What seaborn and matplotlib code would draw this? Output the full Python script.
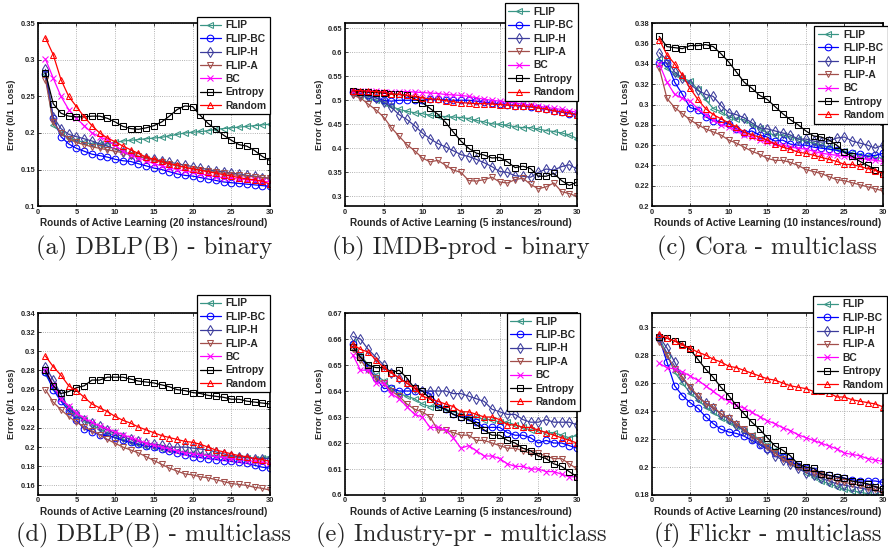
import numpy as np
import pandas as pd
import matplotlib
matplotlib.use("Agg")
import matplotlib.pyplot as plt
from matplotlib.ticker import FuncFormatter
import seaborn as sns

## data (error per round, rounds 1..30)
rounds = list(range(1, 31))
methods = ['FLIP', 'FLIP-BC', 'FLIP-H', 'FLIP-A', 'BC', 'Entropy', 'Random']

## (a) DBLP(B) - binary
dblp_bin_flip = [0.280, 0.211, 0.200, 0.193, 0.190, 0.187, 0.185, 0.185, 0.185, 0.187, 0.189, 0.190, 0.191, 0.192, 0.193,
                 0.194, 0.196, 0.198, 0.200, 0.201, 0.202, 0.203, 0.205, 0.206, 0.207, 0.208, 0.209, 0.210, 0.211, 0.212]
dblp_bin_flip_bc = [0.280, 0.220, 0.195, 0.185, 0.179, 0.175, 0.171, 0.169, 0.167, 0.164, 0.162, 0.161, 0.158, 0.155, 0.152,
                    0.150, 0.147, 0.144, 0.142, 0.141, 0.139, 0.137, 0.135, 0.133, 0.132, 0.131, 0.130, 0.129, 0.128, 0.127]
dblp_bin_flip_h = [0.287, 0.222, 0.206, 0.198, 0.195, 0.192, 0.189, 0.185, 0.182, 0.178, 0.174, 0.171, 0.168, 0.166, 0.164,
                   0.162, 0.160, 0.158, 0.156, 0.154, 0.152, 0.150, 0.148, 0.147, 0.145, 0.144, 0.142, 0.141, 0.139, 0.138]
dblp_bin_flip_a = [0.273, 0.215, 0.200, 0.192, 0.187, 0.184, 0.181, 0.179, 0.177, 0.175, 0.173, 0.170, 0.168, 0.165, 0.162,
                   0.160, 0.157, 0.155, 0.153, 0.151, 0.149, 0.148, 0.146, 0.145, 0.143, 0.142, 0.141, 0.140, 0.139, 0.138]
dblp_bin_bc = [0.301, 0.275, 0.250, 0.232, 0.220, 0.210, 0.200, 0.195, 0.190, 0.183, 0.175, 0.170, 0.166, 0.162, 0.158,
               0.155, 0.152, 0.150, 0.148, 0.146, 0.144, 0.142, 0.140, 0.139, 0.138, 0.137, 0.136, 0.135, 0.134, 0.133]
dblp_bin_entropy = [0.282, 0.240, 0.227, 0.223, 0.222, 0.222, 0.223, 0.223, 0.220, 0.215, 0.209, 0.206, 0.205, 0.207, 0.210,
                    0.215, 0.223, 0.232, 0.237, 0.236, 0.224, 0.213, 0.205, 0.197, 0.190, 0.184, 0.182, 0.176, 0.168, 0.162]
dblp_bin_random = [0.330, 0.307, 0.273, 0.250, 0.236, 0.222, 0.210, 0.200, 0.193, 0.188, 0.182, 0.177, 0.172, 0.167, 0.164,
                   0.161, 0.158, 0.156, 0.153, 0.151, 0.149, 0.147, 0.145, 0.143, 0.141, 0.139, 0.137, 0.136, 0.134, 0.130]

## (b) IMDB-prod - binary
imdb_bin_flip = [0.515, 0.510, 0.505, 0.500, 0.495, 0.487, 0.481, 0.477, 0.474, 0.472, 0.469, 0.467, 0.466, 0.465, 0.464,
                 0.462, 0.458, 0.455, 0.451, 0.450, 0.448, 0.445, 0.443, 0.443, 0.440, 0.437, 0.435, 0.432, 0.428, 0.420]
imdb_bin_flip_bc = [0.518, 0.513, 0.510, 0.505, 0.500, 0.498, 0.500, 0.500, 0.500, 0.500, 0.502, 0.502, 0.501, 0.500, 0.500,
                    0.500, 0.498, 0.496, 0.494, 0.492, 0.490, 0.489, 0.488, 0.486, 0.484, 0.481, 0.478, 0.475, 0.472, 0.470]
imdb_bin_flip_h = [0.515, 0.512, 0.508, 0.505, 0.497, 0.485, 0.470, 0.460, 0.447, 0.432, 0.420, 0.410, 0.403, 0.395, 0.387,
                   0.383, 0.377, 0.370, 0.362, 0.352, 0.350, 0.343, 0.342, 0.340, 0.350, 0.357, 0.355, 0.362, 0.366, 0.357]
imdb_bin_flip_a = [0.510, 0.505, 0.492, 0.480, 0.465, 0.443, 0.425, 0.408, 0.395, 0.380, 0.372, 0.375, 0.365, 0.355, 0.350,
                   0.333, 0.332, 0.335, 0.340, 0.330, 0.328, 0.335, 0.338, 0.325, 0.316, 0.320, 0.328, 0.310, 0.306, 0.300]
imdb_bin_bc = [0.520, 0.520, 0.520, 0.519, 0.518, 0.518, 0.518, 0.518, 0.517, 0.516, 0.515, 0.514, 0.512, 0.511, 0.510,
               0.508, 0.505, 0.502, 0.500, 0.498, 0.496, 0.494, 0.492, 0.490, 0.488, 0.485, 0.483, 0.481, 0.478, 0.475]
imdb_bin_entropy = [0.520, 0.518, 0.517, 0.516, 0.515, 0.513, 0.512, 0.510, 0.503, 0.495, 0.483, 0.471, 0.454, 0.434, 0.415,
                    0.400, 0.390, 0.386, 0.380, 0.381, 0.372, 0.360, 0.363, 0.358, 0.342, 0.342, 0.348, 0.333, 0.323, 0.330]
imdb_bin_random = [0.520, 0.520, 0.519, 0.518, 0.517, 0.513, 0.512, 0.510, 0.508, 0.505, 0.503, 0.502, 0.499, 0.497, 0.495,
                   0.494, 0.493, 0.493, 0.492, 0.491, 0.490, 0.489, 0.488, 0.487, 0.484, 0.482, 0.478, 0.476, 0.474, 0.470]

## (c) Cora - multiclass
cora_mc_flip = [0.345, 0.336, 0.330, 0.326, 0.323, 0.315, 0.305, 0.296, 0.293, 0.288, 0.286, 0.285, 0.280, 0.277, 0.272,
                0.270, 0.270, 0.268, 0.266, 0.264, 0.262, 0.260, 0.258, 0.256, 0.254, 0.252, 0.250, 0.249, 0.248, 0.247]
cora_mc_flip_bc = [0.341, 0.341, 0.322, 0.310, 0.297, 0.295, 0.288, 0.284, 0.283, 0.281, 0.276, 0.272, 0.274, 0.270, 0.268,
                   0.264, 0.265, 0.261, 0.260, 0.260, 0.258, 0.257, 0.256, 0.255, 0.253, 0.252, 0.251, 0.249, 0.250, 0.252]
cora_mc_flip_h = [0.351, 0.344, 0.332, 0.326, 0.320, 0.314, 0.310, 0.308, 0.299, 0.292, 0.290, 0.287, 0.282, 0.277, 0.276,
                  0.274, 0.272, 0.270, 0.266, 0.266, 0.264, 0.263, 0.264, 0.267, 0.268, 0.264, 0.262, 0.260, 0.257, 0.260]
cora_mc_flip_a = [0.336, 0.306, 0.297, 0.291, 0.285, 0.280, 0.276, 0.273, 0.270, 0.265, 0.262, 0.258, 0.254, 0.251, 0.247,
                  0.245, 0.245, 0.243, 0.240, 0.236, 0.234, 0.232, 0.229, 0.226, 0.225, 0.223, 0.221, 0.219, 0.217, 0.215]
cora_mc_bc = [0.340, 0.322, 0.310, 0.306, 0.303, 0.296, 0.290, 0.285, 0.280, 0.278, 0.275, 0.270, 0.268, 0.265, 0.263,
              0.261, 0.260, 0.258, 0.257, 0.256, 0.254, 0.252, 0.251, 0.250, 0.249, 0.248, 0.247, 0.246, 0.245, 0.244]
cora_mc_entropy = [0.367, 0.357, 0.356, 0.355, 0.358, 0.358, 0.359, 0.357, 0.350, 0.342, 0.332, 0.322, 0.316, 0.309, 0.305,
                   0.298, 0.291, 0.285, 0.280, 0.274, 0.269, 0.268, 0.265, 0.260, 0.253, 0.249, 0.244, 0.240, 0.236, 0.232]
cora_mc_random = [0.364, 0.349, 0.340, 0.329, 0.316, 0.305, 0.296, 0.290, 0.286, 0.282, 0.278, 0.273, 0.270, 0.268, 0.265,
                  0.261, 0.258, 0.256, 0.253, 0.252, 0.250, 0.248, 0.246, 0.244, 0.241, 0.241, 0.239, 0.237, 0.235, 0.232]

## (d) DBLP(B) - multiclass
dblp_mc_flip = [0.276, 0.262, 0.250, 0.240, 0.233, 0.228, 0.223, 0.219, 0.215, 0.212, 0.208, 0.205, 0.203, 0.201, 0.200,
                0.198, 0.197, 0.196, 0.195, 0.194, 0.193, 0.192, 0.191, 0.190, 0.190, 0.189, 0.189, 0.188, 0.189, 0.190]
dblp_mc_flip_bc = [0.278, 0.260, 0.248, 0.238, 0.228, 0.219, 0.216, 0.213, 0.212, 0.210, 0.207, 0.205, 0.203, 0.201, 0.200,
                   0.198, 0.196, 0.194, 0.192, 0.190, 0.189, 0.188, 0.187, 0.186, 0.185, 0.184, 0.183, 0.181, 0.179, 0.178]
dblp_mc_flip_h = [0.284, 0.270, 0.255, 0.240, 0.235, 0.228, 0.225, 0.222, 0.218, 0.214, 0.211, 0.208, 0.206, 0.204, 0.203,
                  0.202, 0.200, 0.200, 0.200, 0.199, 0.198, 0.197, 0.195, 0.193, 0.191, 0.190, 0.189, 0.188, 0.188, 0.188]
dblp_mc_flip_a = [0.260, 0.247, 0.239, 0.232, 0.226, 0.221, 0.217, 0.213, 0.208, 0.204, 0.200, 0.197, 0.194, 0.190, 0.186,
                  0.182, 0.178, 0.175, 0.172, 0.171, 0.169, 0.168, 0.166, 0.164, 0.162, 0.161, 0.160, 0.158, 0.157, 0.155]
dblp_mc_bc = [0.280, 0.265, 0.250, 0.243, 0.236, 0.230, 0.226, 0.222, 0.219, 0.216, 0.213, 0.210, 0.207, 0.204, 0.202,
              0.200, 0.198, 0.196, 0.194, 0.193, 0.192, 0.191, 0.190, 0.189, 0.188, 0.187, 0.186, 0.185, 0.184, 0.183]
dblp_mc_entropy = [0.280, 0.264, 0.256, 0.258, 0.262, 0.264, 0.270, 0.270, 0.273, 0.273, 0.273, 0.271, 0.269, 0.268, 0.267,
                   0.265, 0.263, 0.260, 0.259, 0.257, 0.256, 0.254, 0.253, 0.252, 0.250, 0.250, 0.248, 0.247, 0.246, 0.245]
dblp_mc_random = [0.295, 0.284, 0.275, 0.264, 0.259, 0.252, 0.245, 0.241, 0.237, 0.232, 0.228, 0.225, 0.221, 0.218, 0.215,
                  0.212, 0.210, 0.208, 0.206, 0.205, 0.203, 0.200, 0.197, 0.195, 0.193, 0.191, 0.190, 0.188, 0.187, 0.185]

## (e) Industry-pr - multiclass
industry_mc_flip = [0.659, 0.654, 0.650, 0.646, 0.644, 0.641, 0.639, 0.638, 0.637, 0.635, 0.634, 0.634, 0.633, 0.632, 0.631,
                    0.630, 0.630, 0.629, 0.629, 0.628, 0.628, 0.627, 0.626, 0.625, 0.625, 0.624, 0.624, 0.623, 0.622, 0.623]
industry_mc_flip_bc = [0.658, 0.653, 0.649, 0.645, 0.641, 0.641, 0.640, 0.640, 0.640, 0.640, 0.639, 0.635, 0.633, 0.631, 0.630,
                       0.630, 0.628, 0.626, 0.626, 0.626, 0.624, 0.623, 0.623, 0.622, 0.620, 0.621, 0.620, 0.620, 0.619, 0.618]
industry_mc_flip_h = [0.661, 0.660, 0.656, 0.653, 0.650, 0.647, 0.645, 0.643, 0.641, 0.640, 0.640, 0.640, 0.640, 0.639, 0.639,
                      0.638, 0.637, 0.636, 0.633, 0.632, 0.631, 0.631, 0.629, 0.628, 0.628, 0.629, 0.628, 0.628, 0.628, 0.627]
industry_mc_flip_a = [0.656, 0.652, 0.648, 0.645, 0.643, 0.640, 0.638, 0.635, 0.633, 0.632, 0.630, 0.625, 0.625, 0.624, 0.623,
                      0.623, 0.621, 0.621, 0.620, 0.619, 0.618, 0.618, 0.617, 0.616, 0.616, 0.615, 0.614, 0.614, 0.612, 0.610]
industry_mc_bc = [0.654, 0.648, 0.648, 0.643, 0.643, 0.639, 0.637, 0.634, 0.631, 0.630, 0.626, 0.626, 0.625, 0.622, 0.618,
                  0.619, 0.617, 0.615, 0.615, 0.614, 0.612, 0.611, 0.611, 0.610, 0.610, 0.609, 0.609, 0.608, 0.607, 0.607]
industry_mc_entropy = [0.657, 0.653, 0.650, 0.649, 0.649, 0.647, 0.648, 0.645, 0.641, 0.640, 0.637, 0.634, 0.633, 0.631, 0.630,
                       0.629, 0.627, 0.625, 0.623, 0.623, 0.621, 0.620, 0.618, 0.617, 0.615, 0.614, 0.612, 0.611, 0.609, 0.607]
industry_mc_random = [0.658, 0.656, 0.655, 0.652, 0.649, 0.647, 0.645, 0.643, 0.641, 0.638, 0.637, 0.636, 0.635, 0.634, 0.632,
                      0.632, 0.631, 0.630, 0.630, 0.629, 0.627, 0.627, 0.626, 0.626, 0.625, 0.624, 0.623, 0.622, 0.621, 0.620]

## (f) Flickr - multiclass
flickr_mc_flip = [0.293, 0.280, 0.268, 0.260, 0.253, 0.248, 0.243, 0.239, 0.235, 0.232, 0.229, 0.226, 0.223, 0.220, 0.216,
                  0.212, 0.208, 0.204, 0.200, 0.196, 0.193, 0.190, 0.188, 0.186, 0.184, 0.183, 0.182, 0.181, 0.180, 0.180]
flickr_mc_flip_bc = [0.292, 0.275, 0.258, 0.251, 0.246, 0.242, 0.236, 0.231, 0.227, 0.225, 0.224, 0.222, 0.219, 0.216, 0.213,
                     0.210, 0.207, 0.204, 0.201, 0.199, 0.197, 0.195, 0.194, 0.193, 0.192, 0.191, 0.190, 0.190, 0.190, 0.189]
flickr_mc_flip_h = [0.293, 0.285, 0.275, 0.264, 0.256, 0.250, 0.246, 0.242, 0.238, 0.234, 0.230, 0.226, 0.221, 0.217, 0.213,
                    0.208, 0.205, 0.202, 0.199, 0.196, 0.194, 0.192, 0.190, 0.188, 0.187, 0.186, 0.185, 0.184, 0.183, 0.182]
flickr_mc_flip_a = [0.289, 0.280, 0.270, 0.264, 0.257, 0.251, 0.245, 0.243, 0.238, 0.235, 0.231, 0.227, 0.222, 0.219, 0.214,
                    0.210, 0.206, 0.203, 0.200, 0.198, 0.196, 0.194, 0.192, 0.190, 0.189, 0.188, 0.187, 0.185, 0.184, 0.181]
flickr_mc_bc = [0.274, 0.271, 0.270, 0.268, 0.265, 0.262, 0.258, 0.254, 0.250, 0.247, 0.244, 0.242, 0.239, 0.236, 0.233,
                0.231, 0.228, 0.226, 0.223, 0.221, 0.219, 0.217, 0.215, 0.213, 0.210, 0.209, 0.208, 0.206, 0.205, 0.204]
flickr_mc_entropy = [0.293, 0.292, 0.290, 0.288, 0.284, 0.277, 0.270, 0.264, 0.257, 0.251, 0.244, 0.238, 0.232, 0.227, 0.221,
                     0.215, 0.212, 0.208, 0.202, 0.200, 0.199, 0.195, 0.194, 0.193, 0.192, 0.190, 0.189, 0.188, 0.186, 0.184]
flickr_mc_random = [0.295, 0.292, 0.290, 0.287, 0.285, 0.282, 0.280, 0.277, 0.275, 0.272, 0.271, 0.269, 0.267, 0.265, 0.263,
                    0.262, 0.260, 0.258, 0.257, 0.256, 0.254, 0.254, 0.253, 0.250, 0.250, 0.248, 0.247, 0.246, 0.245, 0.243]

captions = ['(a) DBLP(B) - binary', '(b) IMDB-prod - binary', '(c) Cora - multiclass',
            '(d) DBLP(B) - multiclass', '(e) Industry-pr - multiclass', '(f) Flickr - multiclass']
xlabels = ['Rounds of Active Learning (20 instances/round)', 'Rounds of Active Learning (5 instances/round)',
           'Rounds of Active Learning (10 instances/round)', 'Rounds of Active Learning (20 instances/round)',
           'Rounds of Active Learning (5 instances/round)', 'Rounds of Active Learning (20 instances/round)']
ylims = [(0.1, 0.35), (0.28, 0.66), (0.2, 0.38), (0.15, 0.34), (0.6, 0.67), (0.18, 0.31)]
yticks = [np.arange(0.1, 0.351, 0.05), np.arange(0.3, 0.651, 0.05), np.arange(0.2, 0.381, 0.02),
          np.arange(0.16, 0.341, 0.02), np.arange(0.6, 0.671, 0.01), np.arange(0.18, 0.301, 0.02)]

panel_series = [
    [dblp_bin_flip, dblp_bin_flip_bc, dblp_bin_flip_h, dblp_bin_flip_a, dblp_bin_bc, dblp_bin_entropy, dblp_bin_random],
    [imdb_bin_flip, imdb_bin_flip_bc, imdb_bin_flip_h, imdb_bin_flip_a, imdb_bin_bc, imdb_bin_entropy, imdb_bin_random],
    [cora_mc_flip, cora_mc_flip_bc, cora_mc_flip_h, cora_mc_flip_a, cora_mc_bc, cora_mc_entropy, cora_mc_random],
    [dblp_mc_flip, dblp_mc_flip_bc, dblp_mc_flip_h, dblp_mc_flip_a, dblp_mc_bc, dblp_mc_entropy, dblp_mc_random],
    [industry_mc_flip, industry_mc_flip_bc, industry_mc_flip_h, industry_mc_flip_a, industry_mc_bc,
     industry_mc_entropy, industry_mc_random],
    [flickr_mc_flip, flickr_mc_flip_bc, flickr_mc_flip_h, flickr_mc_flip_a, flickr_mc_bc,
     flickr_mc_entropy, flickr_mc_random],
]

## style
colors = {'FLIP': '#3a9585', 'FLIP-BC': '#0000ff', 'FLIP-H': '#3c3c9c', 'FLIP-A': '#a24f4b',
          'BC': '#ff00ff', 'Entropy': '#000000', 'Random': '#ff0000'}
markers = {'FLIP': '<', 'FLIP-BC': 'o', 'FLIP-H': 'd', 'FLIP-A': 'v',
           'BC': 'x', 'Entropy': 's', 'Random': '^'}

sns.set_style('white')
plt.rcParams['font.family'] = ['Liberation Sans', 'DejaVu Sans']
plt.rcParams['font.weight'] = 'bold'

fig = plt.figure(figsize=(8.88, 5.54), dpi=100)

lefts = [0.0425, 0.3885, 0.7337]
widths = [0.2616, 0.2613, 0.2607]
bottoms = [0.628, 0.1065]
heights = [0.330, 0.3285]
## legend anchors (upper right corner, axes fraction)
legend_anchor = [(1.0, 1.035), (1.005, 1.11), (1.02, 0.985),
                 (1.0, 1.10), (1.013, 1.0), (1.017, 1.095)]

for i in range(6):
    row, col = divmod(i, 3)
    ax = fig.add_axes([lefts[col], bottoms[row], widths[col], heights[row]])

    df = pd.DataFrame({'round': rounds * 7,
                       'error': sum(panel_series[i], []),
                       'method': np.repeat(methods, 30)})
    for m in methods:
        sub = df[df['method'] == m]
        sns.lineplot(data=sub, x='round', y='error', ax=ax, color=colors[m], marker=markers[m],
                     markersize=4.8, mfc='none', mec=colors[m], mew=0.75, linewidth=0.9, label=m)

    ax.set_xlim(0, 30)
    ax.set_ylim(*ylims[i])
    ax.set_xticks(range(0, 31, 5))
    ax.set_yticks(yticks[i])
    ax.yaxis.set_major_formatter(FuncFormatter(lambda v, _: f'{round(v, 3):g}'))
    ax.tick_params(direction='in', length=2.5, width=0.6, labelsize=5.4, pad=1.8,
                   top=True, right=True, bottom=True, left=True)
    for t in ax.get_xticklabels() + ax.get_yticklabels():
        t.set_fontweight('bold')
    ax.grid(True, linestyle=':', color='#9a9a9a', linewidth=0.6)
    for s in ax.spines.values():
        s.set_visible(True)
        s.set_color('black')
        s.set_linewidth(1.2)
    ax.set_xlabel(xlabels[i], fontsize=7.2, fontweight='bold', labelpad=1.5)
    ax.set_ylabel('Error (0/1  Loss)', fontsize=6.6, fontweight='bold', labelpad=3)

    leg = ax.legend(loc='upper right', bbox_to_anchor=legend_anchor[i], borderaxespad=0,
                    fancybox=False, framealpha=1, edgecolor='black', fontsize=7.4,
                    labelspacing=0.33, handlelength=2.0, handletextpad=0.45, borderpad=0.35)
    leg.get_frame().set_linewidth(0.9)
    for t in leg.get_texts():
        t.set_fontweight('bold')

    ## caption under each panel
    cx = lefts[col] + widths[col] / 2
    cy = 0.552 if row == 0 else 0.034
    fig.text(cx, cy, captions[i], ha='center', va='center', fontsize=17.6, fontfamily='cmr10', fontweight='normal')

fig.savefig('out.png', dpi=100)
